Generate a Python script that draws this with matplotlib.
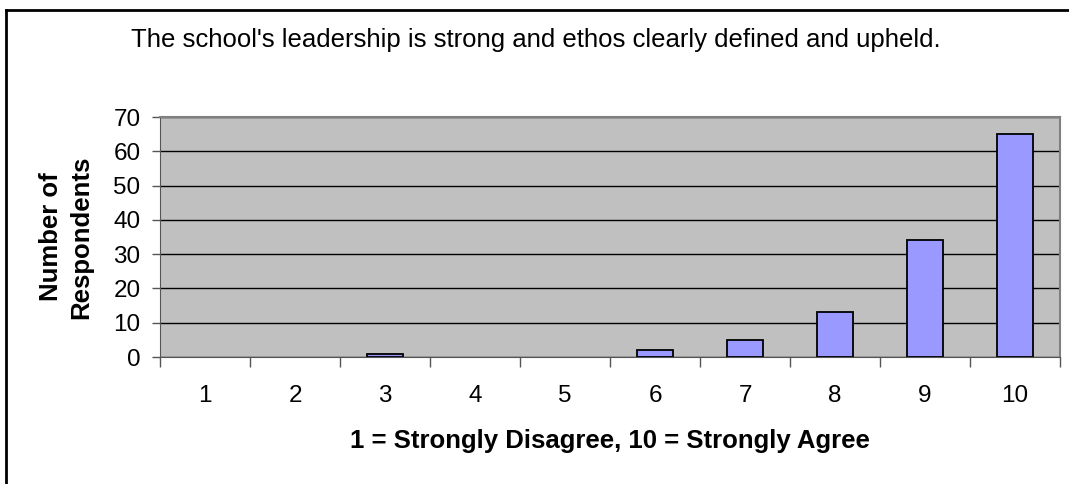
import matplotlib
matplotlib.use("Agg")
import matplotlib.pyplot as plt
from matplotlib.lines import Line2D

plt.rcParams['font.family'] = ['Liberation Sans', 'DejaVu Sans']

categories = ['1', '2', '3', '4', '5', '6', '7', '8', '9', '10']
respondents = [0, 0, 1, 0, 0, 2, 5, 13, 34, 65]
yticks = [0, 10, 20, 30, 40, 50, 60, 70]

W, H = 1069, 484
fig = plt.figure(figsize=(W / 100, H / 100), dpi=100)
ax = fig.add_axes([160 / W, 1 - 357 / H, 900 / W, 240 / H])
ax.set_facecolor('#c0c0c0')

x = range(len(categories))
# zero-count bars have no visible outline in the original
edges = ['black' if v > 0 else 'none' for v in respondents]
ax.bar(x, respondents, width=0.4, color='#9999ff', edgecolor=edges, linewidth=1.3, zorder=3)

ax.set_xlim(-0.5, len(categories) - 0.5)
ax.set_ylim(0, 70)
ax.set_yticks(yticks)
ax.set_yticklabels([str(v) for v in yticks], fontsize=17.5)
ax.yaxis.grid(True, color='black', linewidth=1, zorder=1)
ax.set_axisbelow(True)

ax.set_xticks(list(x))
ax.set_xticklabels(categories, fontsize=17.5)
ax.tick_params(axis='x', length=0, pad=20)
ax.set_xticks([i - 0.5 for i in range(len(categories) + 1)], minor=True)
ax.tick_params(axis='x', which='minor', length=7, width=1, color='#555555', direction='out')
ax.tick_params(axis='y', length=6, width=1, color='#555555', direction='out', pad=8)

for side in ['top', 'right']:
    ax.spines[side].set_color('#808080')
    ax.spines[side].set_linewidth(1.5)
ax.spines['left'].set_color('#555555')
ax.spines['bottom'].set_color('#555555')

ax.set_ylabel('Number of\nRespondents', fontsize=18.5, fontweight='bold', linespacing=1.3)
ax.yaxis.set_label_coords((66 - 160) / 900, 0.5)
ax.yaxis.label.set_va('center')
ax.set_xlabel('1 = Strongly Disagree, 10 = Strongly Agree', fontsize=18.5, fontweight='bold')
ax.xaxis.set_label_coords((610 - 160) / 900, -(441 - 357) / 240)
ax.xaxis.label.set_va('center')

fig.text(536 / W, 1 - 40 / H, "The school's leadership is strong and ethos clearly defined and upheld.",
         ha='center', va='center', fontsize=18.5)

# outer chart frame (top and left edges visible)
fig.add_artist(Line2D([6 / W, 1], [1 - 10 / H, 1 - 10 / H], color='black', linewidth=2))
fig.add_artist(Line2D([6 / W, 6 / W], [0, 1 - 10 / H], color='black', linewidth=2))

fig.savefig('out.png', dpi=100)
